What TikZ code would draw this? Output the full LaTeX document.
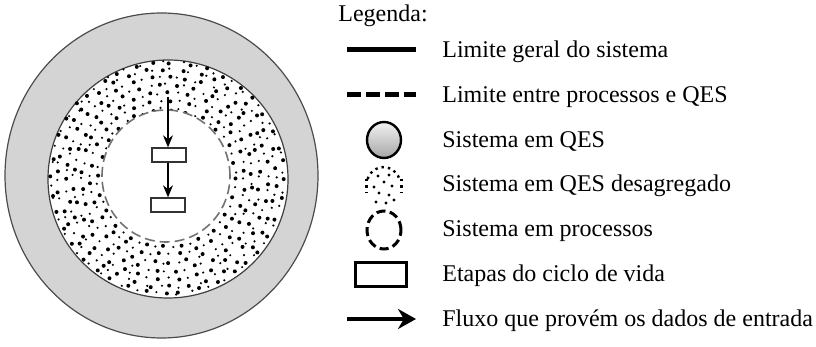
\documentclass[tikz,border=0pt]{standalone}
\usepackage{fontspec}
\setmainfont{Liberation Serif}
\usetikzlibrary{arrows.meta, positioning, shapes.geometric}

\begin{document}
\begin{tikzpicture}[
    x=0.5pt, y=-0.5pt,
    anel/.style={ellipse, inner sep=0pt, line width=0.6pt},
    etapa/.style={rectangle, draw=black!80, line width=0.7pt, minimum width=17pt, minimum height=7pt, inner sep=0pt},
    fluxo/.style={-{Stealth[length=6pt, width=5pt]}, line width=0.6pt},
    legtxt/.style={anchor=base west, inner sep=0pt, font=\rmfamily\fontsize{12}{14}\selectfont},
    simbolo/.style={ellipse, inner sep=0pt, minimum width=17pt, minimum height=18pt}
]
\useasboundingbox (0,0) rectangle (816,347);
\pgfmathsetseed{7}

% Sistema
\node[anel, draw=black!70, fill=black!17, minimum width=156.5pt, minimum height=162.5pt] (geral) at (161.5,175.5) {};
\node[anel, draw=black!75, fill=white, minimum width=120pt, minimum height=119pt] (qes) at (168,179) {};
\coordinate (mid) at (167,178);
\foreach \r [count=\k] in {69,77,85,93,101,109,116}{
  \pgfmathtruncatemacro{\n}{2*pi*\r/9}
  \foreach \i in {1,...,\n}{
    \pgfmathsetmacro{\a}{360/\n*\i+17*\k+2*rand}
    \pgfmathsetmacro{\d}{\r+1.5*rand}
    \pgfmathsetmacro{\s}{0.6+0.4*mod(\i+\k,2)}
    \fill ([shift={(\a:\d)}]mid) circle (\s pt);
  }
}
\node[anel, draw=black!55, fill=white, dash pattern=on 5pt off 2.5pt, line width=0.8pt, minimum width=64pt, minimum height=66pt] (proc) at (166,176) {};

% Etapas
\coordinate (entrada) at (168,97);
\node[etapa] (e1) at (169,155) {};
\node[etapa] (e2) at (168,205) {};
\draw[fluxo] (entrada) -- (entrada |- e1.north);
\draw[fluxo] (e1.south -| entrada) -- (entrada |- e2.north);

% Legenda
\node[legtxt] (leg) at (338,22) {Legenda:};
\node[legtxt] (t1) at (442,58) {Limite geral do sistema};
\node[legtxt] (t2) at (442,103) {Limite entre processos e QES};
\node[legtxt] (t3) at (442,148) {Sistema em QES};
\node[legtxt] (t4) at (442,192) {Sistema em QES desagregado};
\node[legtxt] (t5) at (442,237) {Sistema em processos};
\node[legtxt] (t6) at (442,282) {Etapas do ciclo de vida};
\node[legtxt] (t7) at (442,327) {Fluxo que provém os dados de entrada};

\draw[line width=2.5pt] (347,50) -- (416,50);
\draw[line width=2.5pt, dash pattern=on 7pt off 2.5pt] (347,95) -- (416,95);
\node[simbolo, draw, line width=1.2pt, top color=black!5, bottom color=black!35] (s3) at (384,140) {};
\node[simbolo] (s4) at (384,185) {};
\draw[dotted, line width=1.2pt] (s4.160) arc[start angle=160, end angle=20, x radius=8.5pt, y radius=9pt];
\draw[dotted, line width=1.2pt] (s4.west) ++(0,-6) -- ++(0,14);
\draw[dotted, line width=1.2pt] (s4.east) ++(0,-6) -- ++(0,14);
\foreach \p in {(378,176),(389,175),(384,182),(374,187),(392,186),(379,193),(389,195),(376,202),(386,203),(394,200)}
  \fill \p circle (0.8pt);
\node[simbolo, draw, line width=1.5pt, dash pattern=on 4.5pt off 2.2pt, minimum height=19pt] (s5) at (384,230) {};
\node[rectangle, draw, line width=1.5pt, minimum width=25.5pt, minimum height=12pt, inner sep=0pt] (s6) at (381,275) {};
\coordinate (f0) at (347,319);
\coordinate (f1) at (416,319);
\draw[-{Stealth[length=9pt, width=10pt]}, line width=1.6pt] (f0) -- (f1);
\end{tikzpicture}
\end{document}
